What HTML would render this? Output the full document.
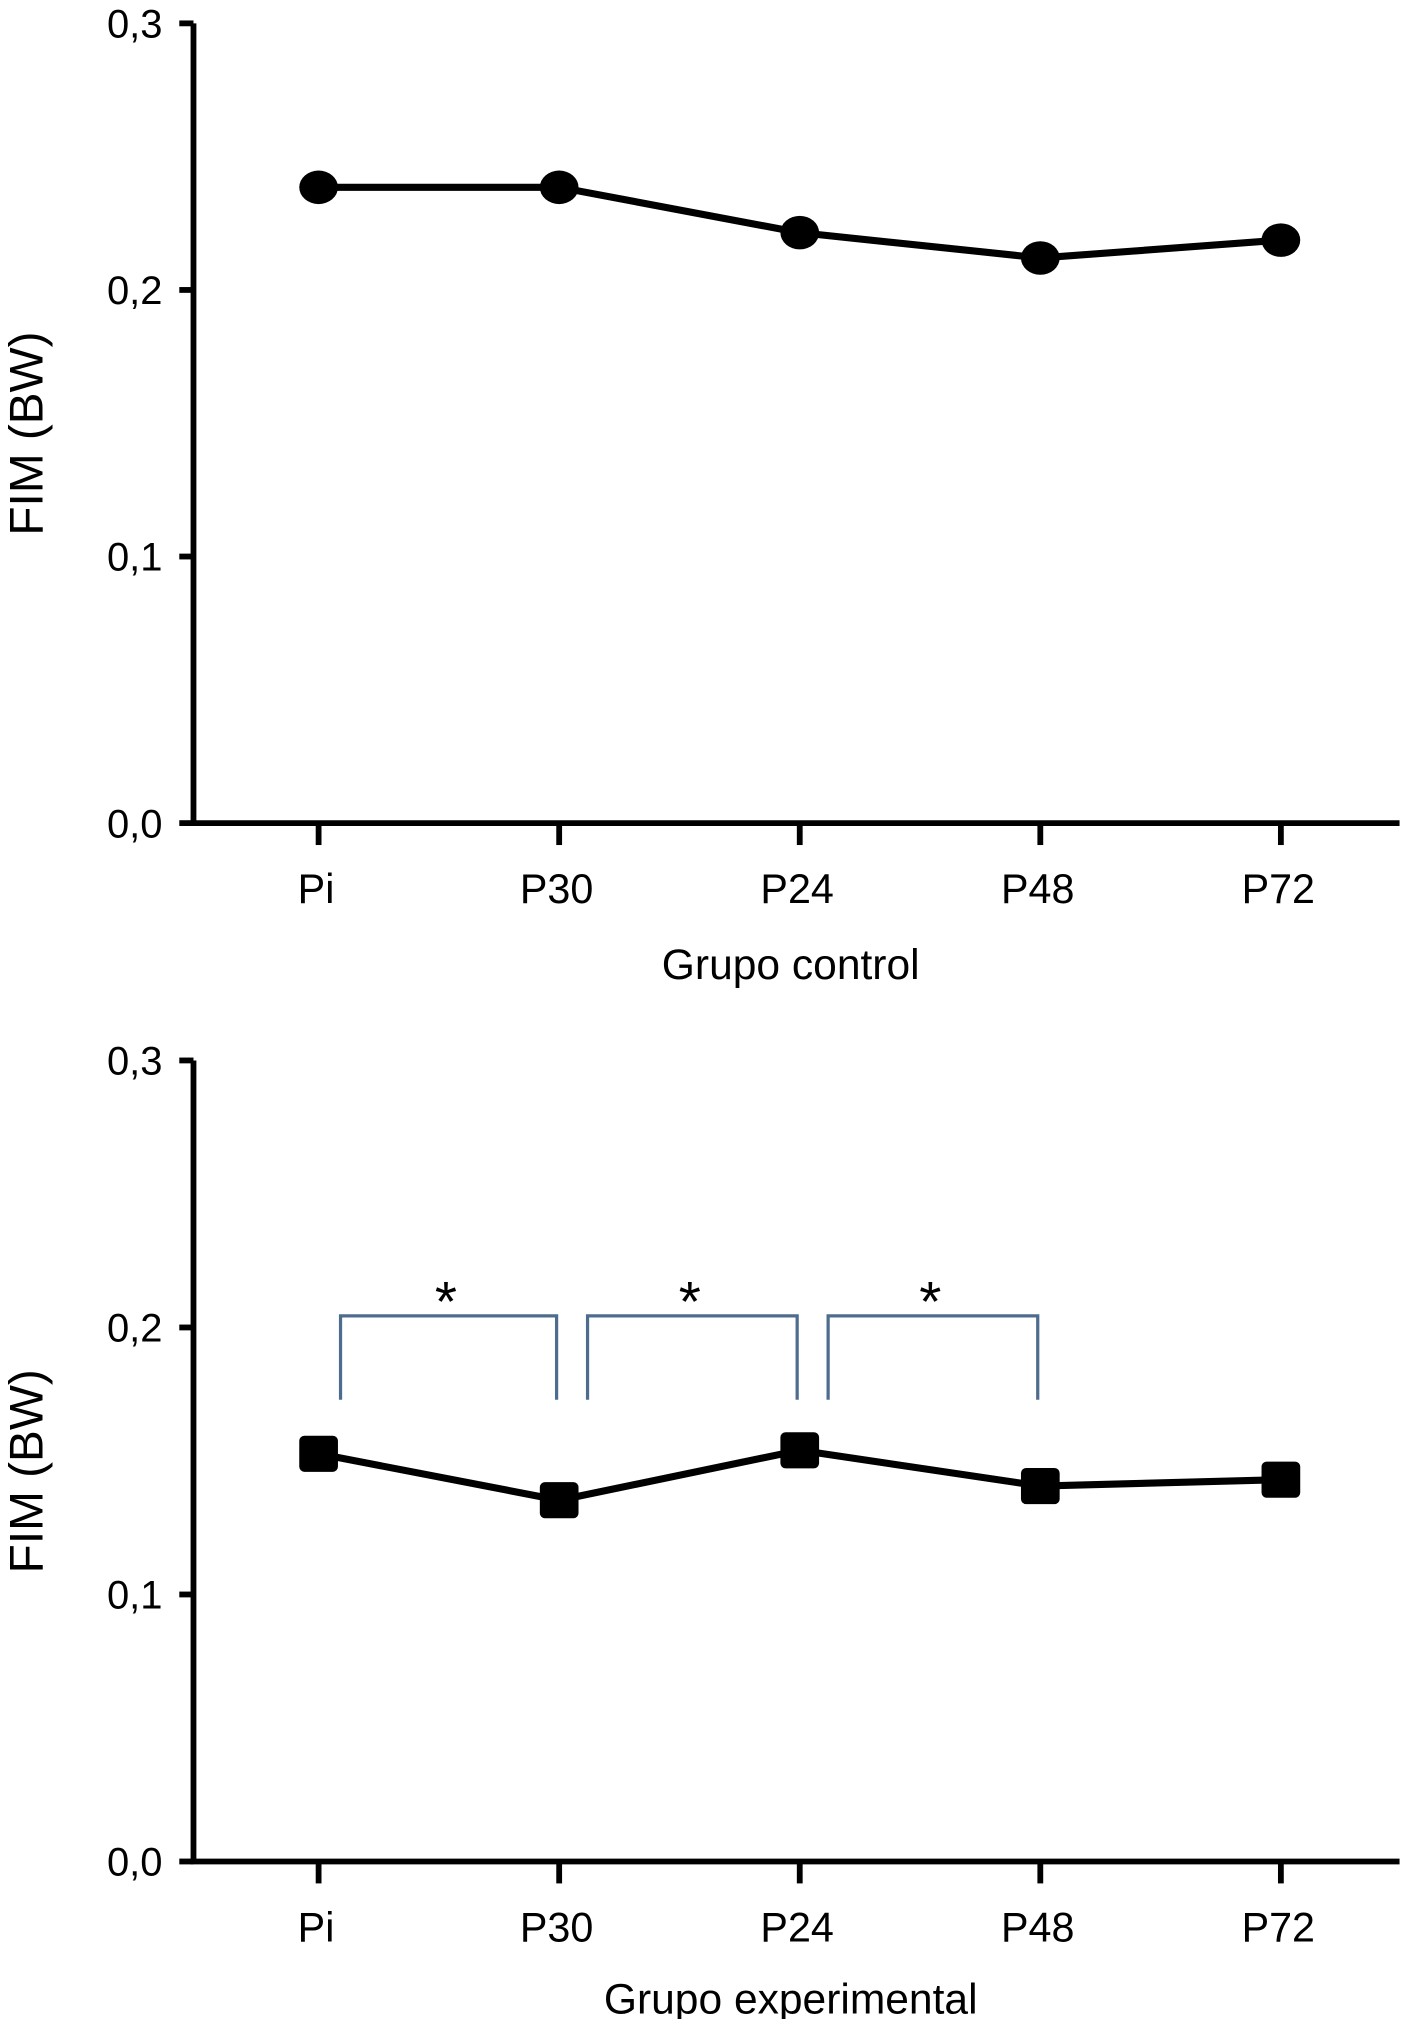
<!DOCTYPE html>
<html><head><meta charset="utf-8"><style>
html,body{margin:0;padding:0;background:#fff;}
svg{display:block;}
text{font-family:"Liberation Sans",sans-serif;fill:#000;}
</style></head><body>
<svg id="fig" width="1406" height="2019" viewBox="0 0 1090 1565" xmlns="http://www.w3.org/2000/svg"></svg>
<script>
const categories = ["Pi","P30","P24","P48","P72"];
const controlValues = [0.2385, 0.2385, 0.2215, 0.212, 0.2187];
const experimentalValues = [0.1527, 0.1353, 0.154, 0.1406, 0.143];
const yTicks = [0, 0.1, 0.2, 0.3];
const yTickLabels = ["0,0","0,1","0,2","0,3"];
const sigPairs = [[0,1],[1,2],[2,3]];

const NS = "http://www.w3.org/2000/svg";
const svg = document.getElementById('fig');
function mk(tag, attrs, parent){
  const e = document.createElementNS(NS, tag);
  for (const k in attrs) e.setAttribute(k, attrs[k]);
  (parent||svg).appendChild(e);
  return e;
}
function drawPanel(cfg){
  const g = mk('g', {});
  
  
  const x0 = 150, x1 = 1085, xFirst = 247, xStep = 186.5;
  const y0 = cfg.y0, y3 = cfg.y3;
  const yS = v => y0 - (v / 0.3) * (y0 - y3);
  const xS = i => xFirst + i * xStep;
  const ax = mk('path', {d:`M${x0},${y3} V${y0} H${x1}`, stroke:'#000', 'stroke-width':4.5, fill:'none'}, g);
  
  
  yTicks.forEach((t, i) => {
    const y = yS(t);
    mk('line', {x1:x0-11, x2:x0, y1:y, y2:y, stroke:'#000', 'stroke-width':4.5}, g);
    const tx = mk('text', {x:x0-24, y:y+11, 'text-anchor':'end', 'font-size':31}, g);
    tx.textContent = yTickLabels[i];
    
    
  });
  categories.forEach((c, i) => {
    const x = xS(i);
    mk('line', {x1:x, x2:x, y1:y0, y2:y0+17, stroke:'#000', 'stroke-width':4.5}, g);
    const tx = mk('text', {x:x-2, y:y0+62, 'text-anchor':'middle', 'font-size':32}, g);
    tx.textContent = c;
    
    
  });
  const pts = cfg.values.map((v, i) => `${xS(i)},${yS(v)}`).join(' ');
  const ln = mk('polyline', {points:pts, stroke:'#000', 'stroke-width':5.5, fill:'none', 'stroke-linejoin':'round'}, g);
  
  
  cfg.values.forEach((v, i) => {
    let m;
    if (cfg.marker === 'circle') {
      m = mk('ellipse', {cx:xS(i), cy:yS(v), rx:15, ry:13, fill:'#000'}, g);
    } else {
      m = mk('rect', {x:xS(i)-15, y:yS(v)-14, width:30, height:28, rx:4, fill:'#000'}, g);
    }
    
    
  });
  if (cfg.brackets) {
    sigPairs.forEach(p => {
      const a = xS(p[0]) + (p[0] === 0 ? 17 : 22), b = xS(p[1]) - 2;
      const br = mk('path', {d:`M${a},1085 V1020 H${b} V1085`, stroke:'#4e6d8e', 'stroke-width':2.5, fill:'none'}, g);
      
      
      const s = mk('text', {x:(a+b)/2 - 2, y:1024, 'text-anchor':'middle', 'font-size':44, 'font-family':'Liberation Serif, serif'}, g);
      s.textContent = '*';
      
      
    });
  }
  const yt = mk('text', {x:0, y:0, 'text-anchor':'middle', 'font-size':37, transform:`translate(33,${(y0+y3)/2+8}) rotate(-90)`}, g);
  yt.textContent = 'FIM (BW)';
  
  
  const xt = mk('text', {x:613, y:cfg.titleY, 'text-anchor':'middle', 'font-size':33}, g);
  xt.textContent = cfg.title;
  
  
}
drawPanel({name:'control-chart', y0:638, y3:18, values:controlValues, marker:'circle', title:'Grupo control', titleY:759});
drawPanel({name:'experimental-chart', y0:1443, y3:822, values:experimentalValues, marker:'square', brackets:true, title:'Grupo experimental', titleY:1561});
</script>
</body></html>
